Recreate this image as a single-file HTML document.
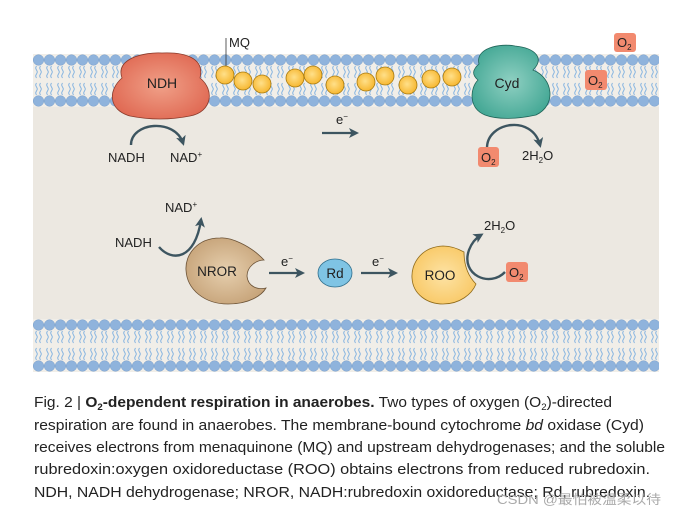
<!DOCTYPE html>
<html><head><meta charset="utf-8"><style>
html,body{margin:0;padding:0;background:#fff;}
svg{display:block;}
text{font-family:"Liberation Sans",sans-serif;fill:#222;}
</style></head><body>
<svg width="676" height="517" viewBox="0 0 676 517" xmlns="http://www.w3.org/2000/svg">
<defs>
<pattern id="mem" x="33" y="54" width="11" height="53" patternUnits="userSpaceOnUse">
<rect width="11" height="53" fill="#f1eee8"/>
<path d="M3.5 12 q-1.5 2 0 4 t0 4 t0 4 M7.5 12 q-1.5 2 0 4 t0 4 t0 4 M3.5 29 q-1.5 2 0 4 t0 4 t0 4 M7.5 29 q-1.5 2 0 4 t0 4 t0 4" stroke="#7aaee0" stroke-width="0.9" fill="none"/>
<circle cx="5.5" cy="6" r="5.3" fill="#8fb3dc" stroke="#7aa0cc" stroke-width="0.5"/>
<circle cx="5.5" cy="47" r="5.3" fill="#8fb3dc" stroke="#7aa0cc" stroke-width="0.5"/>
</pattern>
<pattern id="mem2" x="33" y="319" width="11" height="53" patternUnits="userSpaceOnUse">
<rect width="11" height="53" fill="#f1eee8"/>
<path d="M3.5 12 q-1.5 2 0 4 t0 4 t0 4 M7.5 12 q-1.5 2 0 4 t0 4 t0 4 M3.5 29 q-1.5 2 0 4 t0 4 t0 4 M7.5 29 q-1.5 2 0 4 t0 4 t0 4" stroke="#7aaee0" stroke-width="0.9" fill="none"/>
<circle cx="5.5" cy="6" r="5.3" fill="#8fb3dc" stroke="#7aa0cc" stroke-width="0.5"/>
<circle cx="5.5" cy="47" r="5.3" fill="#8fb3dc" stroke="#7aa0cc" stroke-width="0.5"/>
</pattern>
<radialGradient id="gr" cx="50%" cy="50%" r="60%"><stop offset="0" stop-color="#f0a088"/><stop offset="1" stop-color="#df6650"/></radialGradient>
<radialGradient id="gt" cx="50%" cy="50%" r="60%"><stop offset="0" stop-color="#8fd0c2"/><stop offset="1" stop-color="#3fa592"/></radialGradient>
<radialGradient id="gb" cx="50%" cy="50%" r="60%"><stop offset="0" stop-color="#e6cfae"/><stop offset="1" stop-color="#c4a075"/></radialGradient>
<radialGradient id="gy" cx="50%" cy="50%" r="60%"><stop offset="0" stop-color="#fde3a5"/><stop offset="1" stop-color="#f8c660"/></radialGradient>
<radialGradient id="gq" cx="45%" cy="45%" r="60%"><stop offset="0" stop-color="#ffe08a"/><stop offset="1" stop-color="#f6b42a"/></radialGradient>
<marker id="ah" markerWidth="10" markerHeight="10" refX="7" refY="5" orient="auto" markerUnits="userSpaceOnUse"><path d="M0 0 L10 5 L0 10 L2.5 5z" fill="#3d5560"/></marker>
</defs>
<rect x="33" y="60" width="626" height="310" fill="#ece8e1"/>
<rect x="33" y="54" width="626" height="53" fill="url(#mem)"/>
<rect x="33" y="319" width="626" height="53" fill="url(#mem2)"/>

<line x1="226" y1="38" x2="226" y2="72" stroke="#333" stroke-width="0.8"/>
<text x="229" y="47" font-size="13">MQ</text>
<g fill="url(#gq)" stroke="#a77a10" stroke-width="0.8">
<circle cx="225" cy="75" r="9"/><circle cx="243" cy="81" r="9"/><circle cx="262" cy="84" r="9"/>
<circle cx="295" cy="78" r="9"/><circle cx="313" cy="75" r="9"/><circle cx="335" cy="85" r="9"/>
<circle cx="366" cy="82" r="9"/><circle cx="385" cy="76" r="9"/><circle cx="408" cy="85" r="9"/>
<circle cx="431" cy="79" r="9"/><circle cx="452" cy="77" r="9"/>
</g>

<path d="M122 78 C115 58 145 52 162 53 C185 52 205 58 200 78 C215 90 212 112 190 116 C170 120 150 120 130 116 C108 110 108 90 122 78Z" fill="url(#gr)" stroke="#8a3b2c" stroke-width="0.8"/>
<text x="162" y="88" font-size="14" text-anchor="middle">NDH</text>
<path d="M131 145 C131 122 175 118 183 143" stroke="#3d5560" stroke-width="2.4" fill="none" marker-end="url(#ah)"/>
<text x="108" y="162" font-size="13">NADH</text>
<text x="170" y="162" font-size="13">NAD<tspan font-size="8" dy="-5">+</tspan></text>

<text x="336" y="124" font-size="13">e<tspan font-size="8" dy="-5">−</tspan></text>
<line x1="322" y1="133" x2="356" y2="133" stroke="#3d5560" stroke-width="2.2" marker-end="url(#ah)"/>

<path d="M479 64 C475 48 500 43 515 46 C535 48 545 58 533 70 C553 78 557 105 536 115 C518 119 498 120 485 115 C468 108 470 88 478 80 C472 75 472 70 479 64Z" fill="url(#gt)" stroke="#1f6458" stroke-width="0.8"/>
<text x="507" y="88" font-size="14" text-anchor="middle">Cyd</text>
<path d="M487 148 C487 122 532 114 540 145" stroke="#3d5560" stroke-width="2.4" fill="none" marker-end="url(#ah)"/>
<rect x="478" y="147" width="21" height="20" rx="3" fill="#f28a6f"/>
<text x="481" y="162" font-size="13">O<tspan font-size="8" dy="3">2</tspan></text>
<text x="522" y="160" font-size="13">2H<tspan font-size="8" dy="3">2</tspan><tspan dy="-3">O</tspan></text>

<rect x="614" y="33" width="22" height="19" rx="3" fill="#f28a6f"/>
<text x="617" y="47" font-size="13">O<tspan font-size="8" dy="3">2</tspan></text>
<rect x="585" y="70" width="22" height="20" rx="3" fill="#f28a6f"/>
<text x="588" y="85" font-size="13">O<tspan font-size="8" dy="3">2</tspan></text>

<path d="M264 260 C250 245 230 237 220 238 C197 238 185 255 186 270 C187 290 205 304 228 304 C250 304 262 295 266 288 C258 290 248 287 247 276 C247 266 257 260 264 260Z" fill="url(#gb)" stroke="#6b5236" stroke-width="0.8"/>
<text x="217" y="276" font-size="13.5" text-anchor="middle">NROR</text>
<path d="M159 247 C172 262 195 260 201 220" stroke="#3d5560" stroke-width="2.4" fill="none" marker-end="url(#ah)"/>
<text x="115" y="247" font-size="13">NADH</text>
<text x="165" y="212" font-size="13">NAD<tspan font-size="8" dy="-5">+</tspan></text>

<text x="281" y="266" font-size="13">e<tspan font-size="8" dy="-5">−</tspan></text>
<line x1="269" y1="273" x2="302" y2="273" stroke="#3d5560" stroke-width="2.2" marker-end="url(#ah)"/>
<ellipse cx="335" cy="273" rx="17" ry="14" fill="#7fc4e4" stroke="#2f6e8c" stroke-width="0.8"/>
<text x="335" y="278" font-size="13.5" text-anchor="middle">Rd</text>
<text x="372" y="266" font-size="13">e<tspan font-size="8" dy="-5">−</tspan></text>
<line x1="361" y1="273" x2="395" y2="273" stroke="#3d5560" stroke-width="2.2" marker-end="url(#ah)"/>

<path d="M464 252 C455 247 448 246 443 246 C420 247 411 265 412 278 C413 295 428 304 443 304 C460 304 472 294 476 284 C468 276 464 265 464 252Z" fill="url(#gy)" stroke="#8f6a1a" stroke-width="0.8"/>
<text x="440" y="280" font-size="13.5" text-anchor="middle">ROO</text>
<path d="M505 272 C490 288 460 275 469 250 C472 242 476 238 481 235" stroke="#3d5560" stroke-width="2.4" fill="none" marker-end="url(#ah)"/>
<rect x="506" y="262" width="22" height="20" rx="3" fill="#f28a6f"/>
<text x="509" y="277" font-size="13">O<tspan font-size="8" dy="3">2</tspan></text>
<text x="484" y="230" font-size="13">2H<tspan font-size="8" dy="3">2</tspan><tspan dy="-3">O</tspan></text>

<g font-size="14.5">
<text x="34" y="407" textLength="578" lengthAdjust="spacingAndGlyphs">Fig. 2 | <tspan font-weight="bold">O<tspan font-size="9" dy="3">2</tspan><tspan dy="-3">-dependent respiration in anaerobes.</tspan></tspan> Two types of oxygen (O<tspan font-size="9" dy="3">2</tspan><tspan dy="-3">)-directed</tspan></text>
<text x="34" y="430" textLength="610" lengthAdjust="spacingAndGlyphs">respiration are found in anaerobes. The membrane-bound cytochrome <tspan font-style="italic">bd</tspan> oxidase (Cyd)</text>
<text x="34" y="452" textLength="631" lengthAdjust="spacingAndGlyphs">receives electrons from menaquinone (MQ) and upstream dehydrogenases; and the soluble</text>
<text x="34" y="474" textLength="616" lengthAdjust="spacingAndGlyphs">rubredoxin:oxygen oxidoreductase (ROO) obtains electrons from reduced rubredoxin.</text>
<text x="34" y="497" textLength="616" lengthAdjust="spacingAndGlyphs">NDH, NADH dehydrogenase; NROR, NADH:rubredoxin oxidoreductase; Rd, rubredoxin.</text>
</g>
<text x="497" y="504" font-size="13" style="fill:#aaa;font-family:'Liberation Sans','Noto Sans CJK SC',sans-serif" textLength="164" lengthAdjust="spacingAndGlyphs">CSDN @最怕被温柔以待</text>
</svg>
</body></html>
